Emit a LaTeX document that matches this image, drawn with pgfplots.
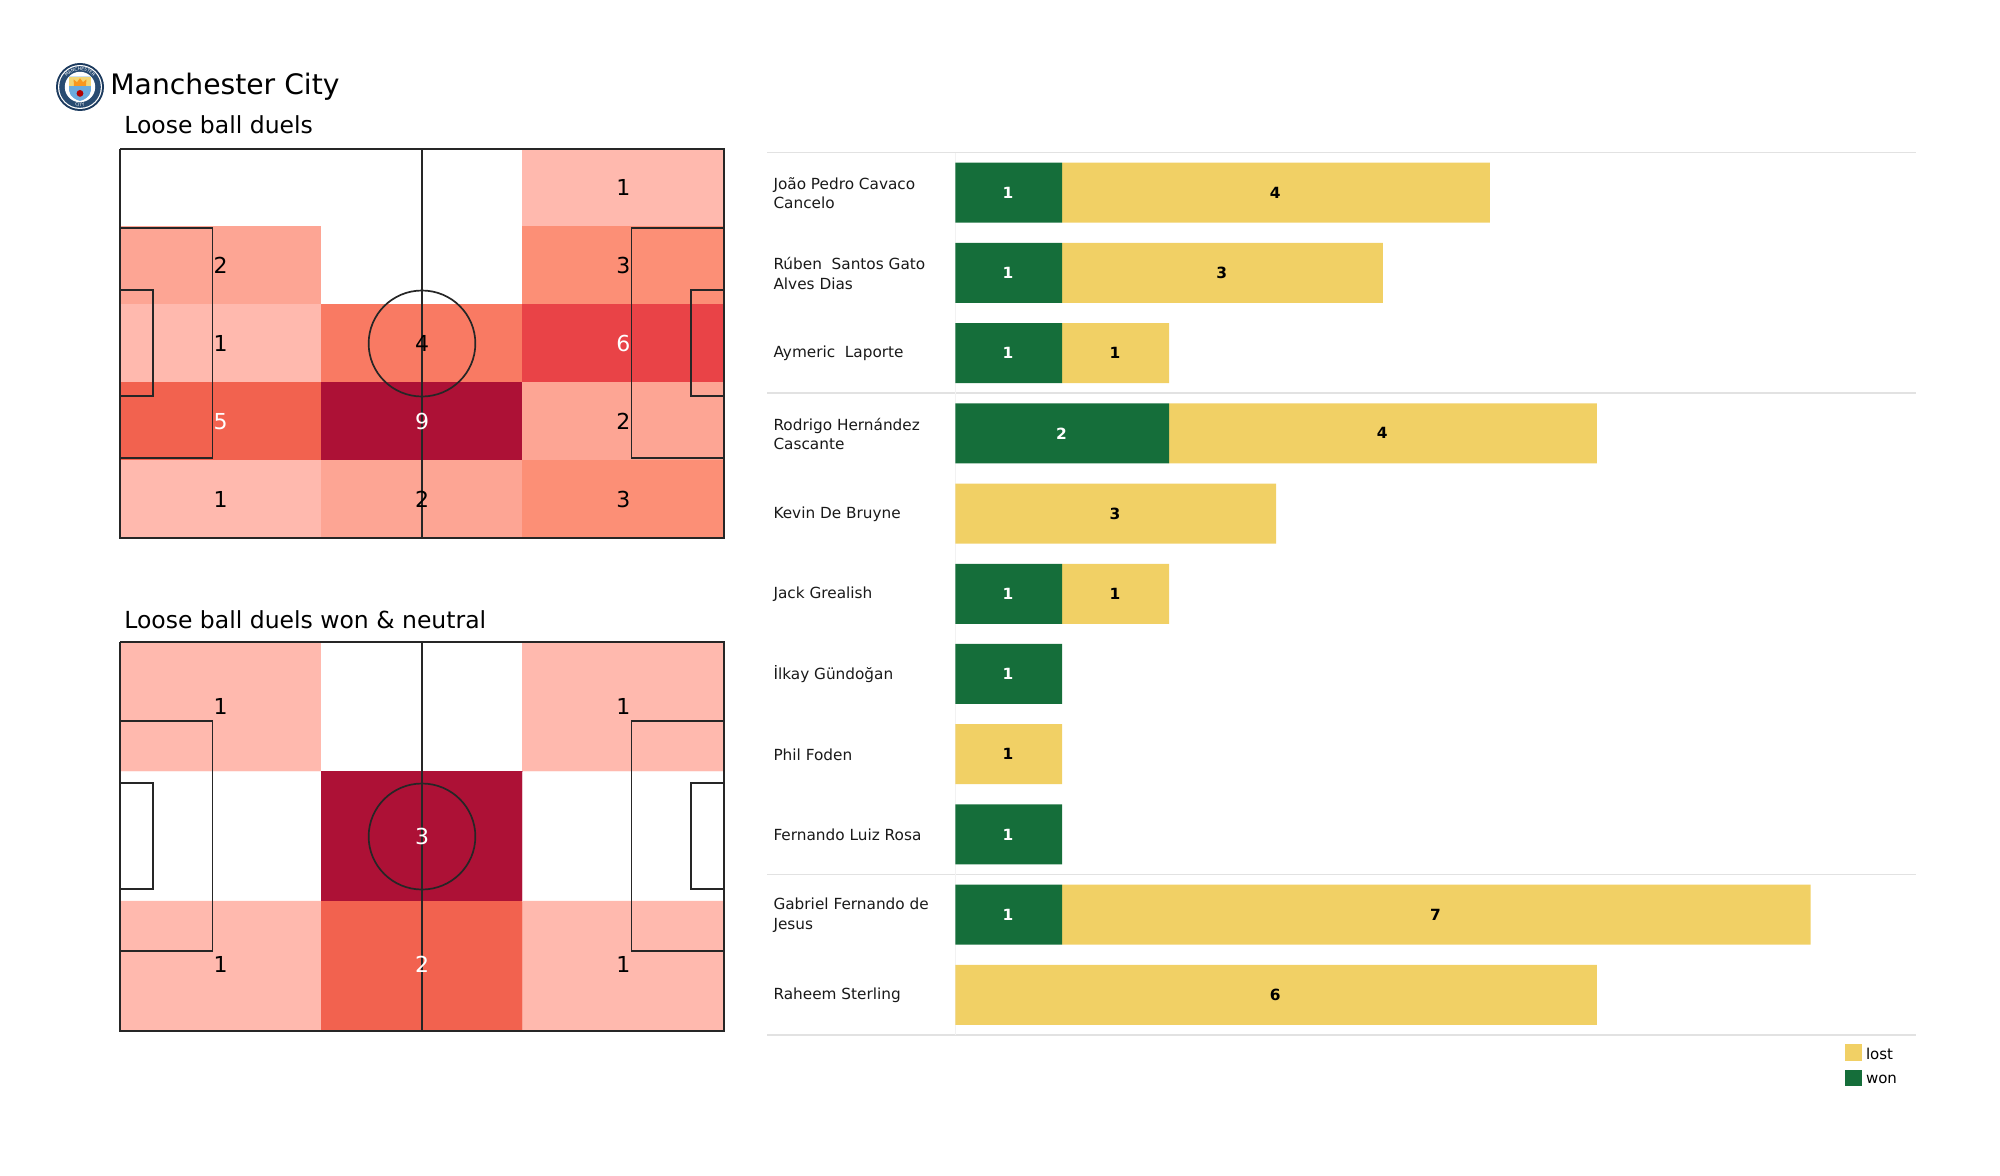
\documentclass[border=0pt]{standalone}
\usepackage{fontspec}
\setmainfont{DejaVu Sans}
\usepackage{pgfplots}
\usepackage{pgfplotstable}
\pgfplotsset{compat=1.18}
\usetikzlibrary{decorations.text}

\definecolor{wonc}{HTML}{156E3A}
\definecolor{lostc}{HTML}{F1D065}
\definecolor{sepc}{HTML}{E2E2E2}
\definecolor{linec}{HTML}{262626}
\definecolor{navy}{HTML}{1C3A5E}
\definecolor{cityblue}{HTML}{6CABDD}

% 1 reference pixel = 0.5pt
\pgfplotstableread{
x y v
20 8 0
60 8 0
100 8 1
20 24 2
60 24 0
100 24 3
20 40 1
60 40 4
100 40 6
20 56 5
60 56 9
100 56 2
20 72 1
60 72 2
100 72 3
}\heatA
\pgfplotstableread{
x y v
20 13.33 1
60 13.33 0
100 13.33 1
20 40 0
60 40 3
100 40 0
20 66.67 1
60 66.67 2
100 66.67 1
}\heatB

\pgfplotstableread[col sep=comma]{
won,lost
1,4
1,3
1,1
2,4
0,3
1,1
1,0
0,1
1,0
1,7
0,6
}\duels

\newcommand{\pitch}{%
  \addplot[linec, line width=0.85pt] coordinates {(0,0)(120,0)(120,80)(0,80)(0,0)};
  \addplot[linec, line width=0.85pt] coordinates {(60,0)(60,80)};
  \addplot[linec, line width=0.85pt] coordinates {(0,16.2)(18.4,16.2)(18.4,63.6)(0,63.6)};
  \addplot[linec, line width=0.85pt] coordinates {(120,16.2)(101.6,16.2)(101.6,63.6)(120,63.6)};
  \addplot[linec, line width=0.85pt] coordinates {(0,29)(6.5,29)(6.5,50.8)(0,50.8)};
  \addplot[linec, line width=0.85pt] coordinates {(120,29)(113.5,29)(113.5,50.8)(120,50.8)};
  \draw[linec, line width=0.85pt] (axis cs:60,40) ellipse [x radius=10.6, y radius=10.9];
}

\pgfplotsset{
  pitchaxis/.style={
    scale only axis, hide axis, clip=false,
    width=302pt, height=194.5pt,
    xmin=0, xmax=120, ymin=0, ymax=80, y dir=reverse,
    point meta min=0,
  },
  cellnum/.style={
    only marks, mark=none,
    point meta=explicit symbolic,
    nodes near coords,
    nodes near coords align={center},
    every node near coord/.append style={font=\fontsize{11}{13}\selectfont, text=#1, inner sep=0pt},
  },
}

\begin{document}
\begin{tikzpicture}
\path[use as bounding box] (0,0) rectangle (1000pt,587.5pt);

% crest
\begin{scope}[shift={(40pt,544pt)}]
  \fill[navy] (0,0) circle (12pt);
  \fill[white] (0,0) circle (11pt);
  \fill[navy!85!cityblue] (0,0) circle (10.4pt);
  \fill[white] (0,0) circle (7.6pt);
  \path[decorate, decoration={text along path, text align=center,
      text={|\fontsize{2.2}{2.4}\selectfont\color{white}|MANCHESTER}}]
    (-8.3pt,0) arc (180:0:8.3pt);
  \path[decorate, decoration={text along path, text align=center,
      text={|\fontsize{2.2}{2.4}\selectfont\color{white}|CITY}}]
    (-9.6pt,0) arc (180:360:9.6pt);
  \fill[cityblue] (-5.4pt,5.2pt) -- (5.4pt,5.2pt) -- (5.4pt,-2pt)
     .. controls (5pt,-5pt) and (2pt,-6.5pt) .. (0,-7pt)
     .. controls (-2pt,-6.5pt) and (-5pt,-5pt) .. (-5.4pt,-2pt) -- cycle;
  \fill[lostc!90!white] (-5.4pt,5.2pt) rectangle (5.4pt,0.4pt);
  \fill[orange!70!lostc] (-3pt,0.6pt) -- (-3.2pt,3.8pt) -- (-1.5pt,2.4pt) -- (0,4.4pt) -- (1.5pt,2.4pt) -- (3.2pt,3.8pt) -- (3pt,0.6pt) -- cycle;
  \fill[red!70!black] (0,-3.2pt) circle (1.7pt);
\end{scope}

\node[anchor=base west, inner sep=0pt, font=\fontsize{14.1}{17}\selectfont] at (55pt,540.4pt) {Manchester City};

% separators behind the bars
\begin{axis}[
  at={(477.65pt,70pt)}, anchor=south west,
  scale only axis, hide axis, clip=false,
  width=481.35pt, height=441.25pt,
  xmin=0, xmax=9.005, ymin=-0.5, ymax=10.5, y dir=reverse,
]
\addplot[sepc, line width=0.7pt] coordinates {(-1.76,-0.5)(8.985,-0.5)};
\addplot[sepc, line width=0.7pt] coordinates {(-1.76,2.5)(8.985,2.5)};
\addplot[sepc, line width=0.7pt] coordinates {(-1.76,8.5)(8.985,8.5)};
\addplot[sepc, line width=0.7pt] coordinates {(-1.76,10.5)(8.985,10.5)};
\addplot[sepc!45!white, line width=0.6pt] coordinates {(0,-0.5)(0,10.5)};
\end{axis}

% stacked bars
\begin{axis}[
  at={(477.65pt,70pt)}, anchor=south west,
  scale only axis,
  width=481.35pt, height=441.25pt,
  xbar stacked, bar width=30pt,
  xmin=0, xmax=9.005, ymin=-0.5, ymax=10.5, y dir=reverse,
  axis line style={draw=none},
  major tick length=0pt,
  xtick=\empty,
  ytick={0,...,10},
  yticklabels={
    {João Pedro Cavaco\\Cancelo},
    {Rúben~ Santos Gato\\Alves Dias},
    {Aymeric~ Laporte},
    {Rodrigo Hernández\\Cascante},
    {Kevin De Bruyne},
    {Jack Grealish},
    {İlkay Gündoğan},
    {Phil Foden},
    {Fernando Luiz Rosa},
    {Gabriel Fernando de\\Jesus},
    {Raheem Sterling}},
  yticklabel style={
    anchor=west, align=left, inner sep=0pt, xshift=-91.1pt, yshift=-0.3pt,
    font=\fontsize{7.65}{9.6}\selectfont, text=black!90},
  point meta=explicit,
  nodes near coords={\pgfmathfloatifflags{\pgfplotspointmeta}{0}{}{\pgfmathprintnumber{\pgfplotspointmeta}}},
  nodes near coords style={
    font=\fontsize{7.7}{9}\bfseries\selectfont, inner sep=0pt, xshift=-0.4pt,
    /pgf/number format/assume math mode=true},
  reverse legend,
  legend cell align=left,
  legend image code/.code={\fill[#1] (0pt,-3pt) rectangle (8.5pt,5.4pt);},
  legend style={
    draw=none, fill=none, at={(0.9827,-0.0094)}, anchor=north east,
    font=\fontsize{7.5}{9}\selectfont, row sep=1.7pt, inner sep=0pt},
]
\addplot[draw=none, fill=wonc, nodes near coords style={text=white}] table[x=won, y expr=\coordindex, meta=won] {\duels};
\addplot[draw=none, fill=lostc, nodes near coords style={text=black}] table[x=lost, y expr=\coordindex, meta=lost] {\duels};
\legend{won, lost}
\end{axis}

% pitch: all loose ball duels
\begin{axis}[
  pitchaxis,
  at={(60pt,318.5pt)}, anchor=south west,
  point meta max=9,
  colormap={heata}{
    rgb255(0)=(255,255,255)
    rgb255(1)=(255,185,174)
    rgb255(2)=(253,165,148)
    rgb255(3)=(252,143,118)
    rgb255(4)=(249,122,99)
    rgb255(5)=(242,98,79)
    rgb255(6)=(233,67,71)
    rgb255(9)=(173,17,54)},
  title={Loose ball duels},
  title style={at={(0.0066,1)}, anchor=base west, inner sep=0pt, yshift=1.6pt,
    font=\fontsize{11.75}{14}\selectfont},
]
\addplot[matrix plot*, mesh/cols=3, point meta=explicit] table[x=x, y=y, meta=v] {\heatA};
\addplot[cellnum=black] table[x=x, y=y, meta=v] {
x y v
100 8 1
20 24 2
100 24 3
20 40 1
60 40 4
100 56 2
20 72 1
60 72 2
100 72 3
};
\addplot[cellnum=white] table[x=x, y=y, meta=v] {
x y v
100 40 6
20 56 5
60 56 9
};
\pitch
\end{axis}

% pitch: won and neutral
\begin{axis}[
  pitchaxis,
  at={(60pt,72pt)}, anchor=south west,
  point meta max=3,
  colormap={heatb}{
    rgb255(0)=(255,255,255)
    rgb255(1)=(255,185,174)
    rgb255(2)=(242,98,79)
    rgb255(3)=(173,17,54)},
  title={Loose ball duels won \& neutral},
  title style={at={(0.0066,1)}, anchor=base west, inner sep=0pt, yshift=0.8pt,
    font=\fontsize{11.75}{14}\selectfont},
]
\addplot[matrix plot*, mesh/cols=3, point meta=explicit] table[x=x, y=y, meta=v] {\heatB};
\addplot[cellnum=black] table[x=x, y=y, meta=v] {
x y v
20 13.33 1
100 13.33 1
20 66.3 1
100 66.3 1
};
\addplot[cellnum=white] table[x=x, y=y, meta=v] {
x y v
60 40 3
60 66.3 2
};
\pitch
\end{axis}
\end{tikzpicture}
\end{document}
